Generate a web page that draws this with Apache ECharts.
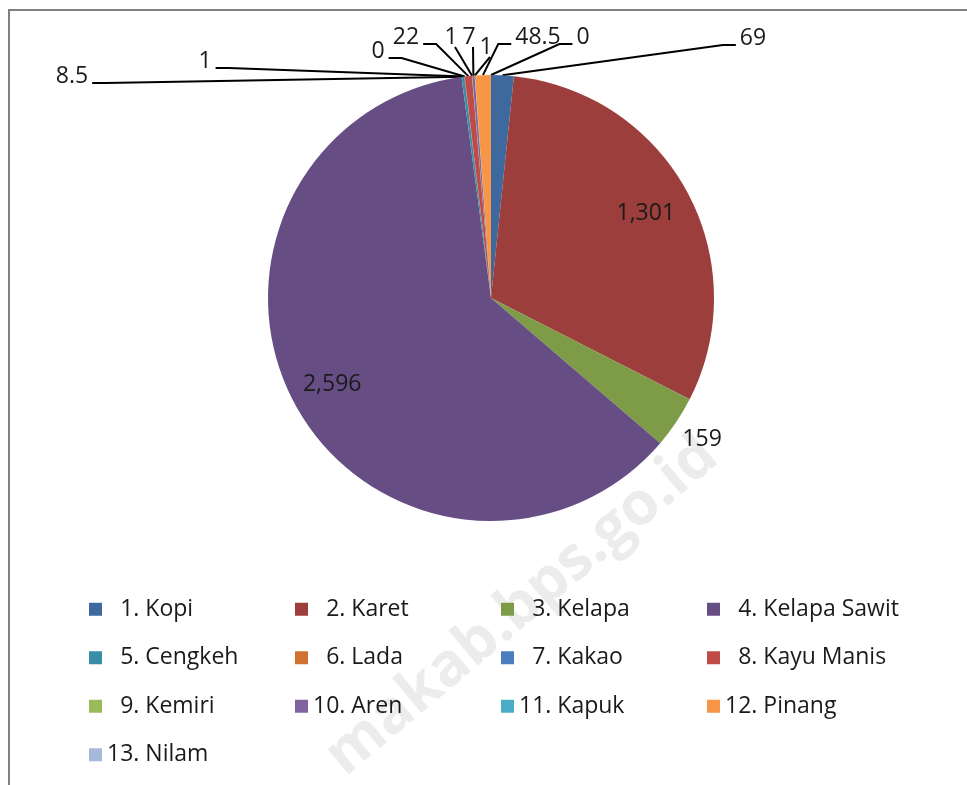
<!DOCTYPE html>
<html>
<head>
<meta charset="utf-8">
<script src="https://cdn.jsdelivr.net/npm/echarts@6/dist/echarts.min.js"></script>
<style>
  html, body { margin: 0; padding: 0; background: #fff; }
  #chart { width: 967px; height: 785px; }
</style>
</head>
<body>
<div id="chart"></div>
<script>
// data
const categories = ['1. Kopi', '2. Karet', '3. Kelapa', '4. Kelapa Sawit', '5. Cengkeh', '6. Lada',
    '7. Kakao', '8. Kayu Manis', '9. Kemiri', '10. Aren', '11. Kapuk', '12. Pinang', '13. Nilam'];
const values = [69, 1301, 159, 2596, 8.5, 1, 0, 22, 1, 7, 1, 48.5, 0];
const colors = ['#3d699f', '#9c3e3c', '#7e9b47', '#664e85', '#388ea6', '#d1712f', '#4a7ebf',
    '#bf4b48', '#9abb59', '#8064a2', '#4aacc6', '#f79646', '#a7b9da'];

// label placement: r = radial factor of the radius, otherwise a text spot and the side the leader leaves from
const labelSpots = [
    { x: 753, y: 38, side: 'L' },
    { r: 0.79 },
    { r: 1.14 },
    { r: 0.81 },
    { x: 72, y: 76, side: 'R' },
    { x: 205, y: 61, side: 'R' },
    { x: 378, y: 51, side: 'R' },
    { x: 406, y: 37, side: 'R' },
    { x: 451, y: 37, side: 'B' },
    { x: 469, y: 37, side: 'B' },
    { x: 486, y: 47, side: 'B' },
    { x: 538, y: 37, side: 'L' },
    { x: 583, y: 37, side: 'L' }
];

const C = [491, 298];
const R = 223;
const FONT = '"Open Sans", sans-serif';

function fmt(v) {
    const parts = String(v).split('.');
    parts[0] = parts[0].replace(/\B(?=(\d{3})+(?!\d))/g, ',');
    return parts.join('.');
}

const total = values.reduce((a, b) => a + b, 0);
function midDir(i) {
    let before = 0;
    for (let k = 0; k < i; k++) before += values[k];
    const ang = (before + values[i] / 2) / total * Math.PI * 2;
    return [Math.sin(ang), -Math.cos(ang)];
}

const chart = echarts.init(document.getElementById('chart'), null, { renderer: 'canvas' });

const option = {
    backgroundColor: '#fff',
    animation: false,
    color: colors,
    graphic: [
        {
            type: 'rect', z: -2, silent: true,
            shape: { x: 9, y: 10, width: 990, height: 800 },
            style: { fill: 'none', stroke: '#808080', lineWidth: 2 }
        },
        {
            type: 'text', z: -1, silent: true,
            x: 522, y: 606, rotation: 0.70,
            style: {
                text: 'makab.bps.go.id', fill: '#ececec',
                font: 'bold 60px ' + FONT, align: 'center', verticalAlign: 'middle'
            }
        }
    ],
    legend: {
        left: 89, top: 597, width: 820,
        orient: 'horizontal',
        padding: 0,
        itemWidth: 13, itemHeight: 13,
        itemGap: 24,
        icon: 'rect',
        data: categories,
        formatter: function (name) {
            return /^\d\./.test(name) ? '\u2007' + name : name;
        },
        textStyle: {
            fontFamily: FONT, fontSize: 23, color: '#1a1a1a',
            width: 164, lineHeight: 24.5, height: 24.5
        }
    },
    series: [{
        type: 'pie',
        center: C,
        radius: R,
        startAngle: 90,
        clockwise: true,
        avoidLabelOverlap: false,
        itemStyle: { borderWidth: 0 },
        label: {
            show: true,
            position: 'outside',
            fontFamily: FONT, fontSize: 23, color: '#1a1a1a',
            formatter: p => fmt(p.value)
        },
        labelLine: {
            show: true, length: 10, length2: 10, smooth: false,
            lineStyle: { color: '#000', width: 2 }
        },
        labelLayout: function (p) {
            const i = p.dataIndex;
            const s = labelSpots[i];
            const d = midDir(i);
            if (s.r) {
                return {
                    x: C[0] + d[0] * R * s.r, y: C[1] + d[1] * R * s.r,
                    align: 'center', verticalAlign: 'middle'
                };
            }
            const anchor = [C[0] + d[0] * R, C[1] + d[1] * R];
            const hw = p.labelRect.width / 2;
            let pts;
            if (s.side === 'R') {
                const ax = s.x + hw + 4, ay = s.y + 7;
                pts = [anchor, [ax + 13, ay], [ax, ay]];
            } else if (s.side === 'L') {
                const ax = s.x - hw - 4, ay = s.y + 7;
                pts = [anchor, [ax - 13, ay], [ax, ay]];
            } else {
                const bx = s.x + 4, by = s.y + 10;
                pts = [anchor, [bx, by], [bx, by]];
            }
            return { x: s.x, y: s.y, align: 'center', verticalAlign: 'middle', labelLinePoints: pts };
        },
        data: categories.map((name, i) => {
            const item = { name: name, value: values[i] };
            if (labelSpots[i].r) item.labelLine = { show: false };
            return item;
        })
    }]
};

chart.setOption(option);
window.addEventListener('resize', () => chart.resize());
</script>
</body>
</html>
